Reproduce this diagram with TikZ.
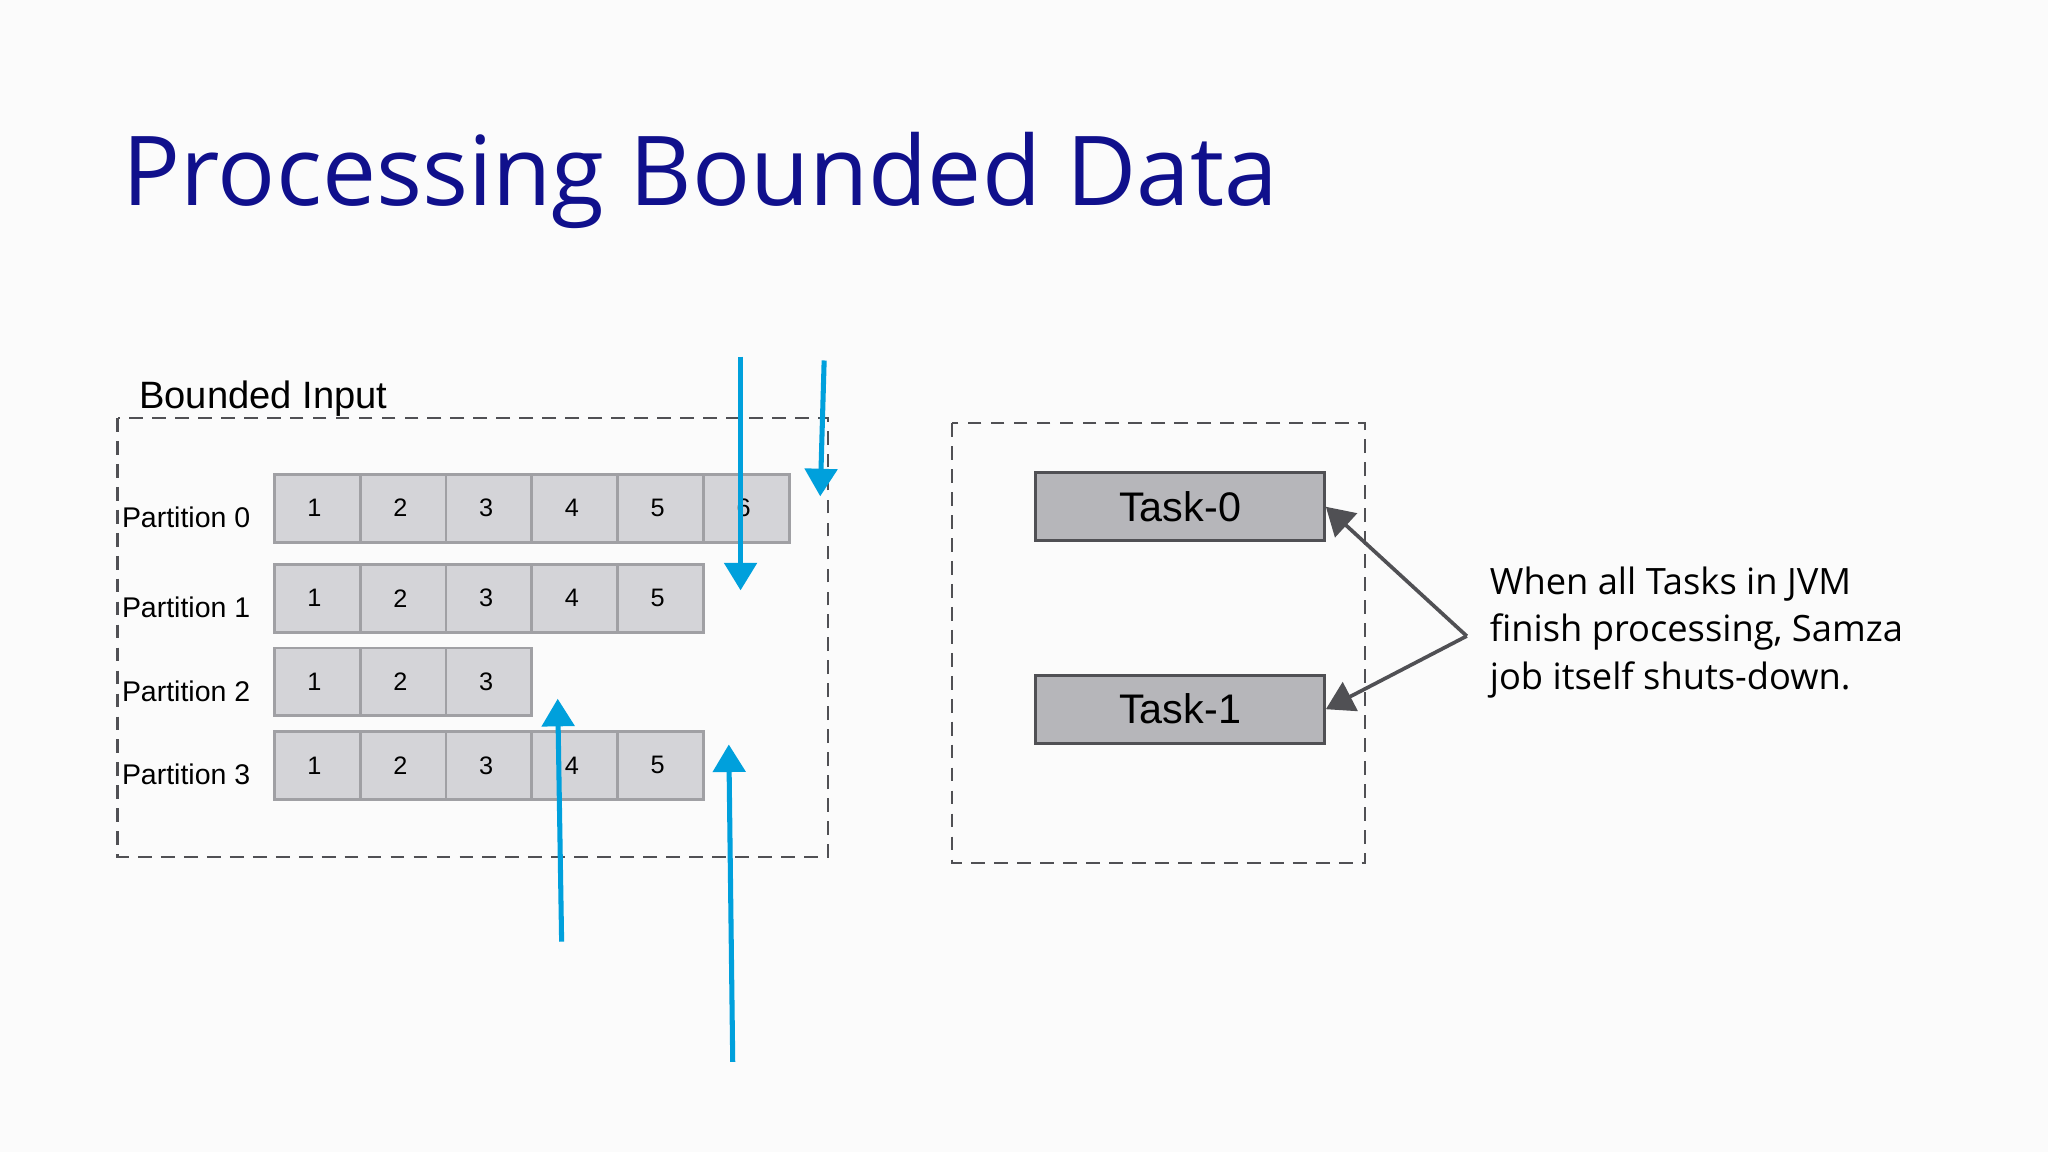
\documentclass[tikz,border=0pt]{standalone}
\usepackage{fontspec}
\setmainfont{Liberation Sans}
\newfontfamily\osans{Open Sans}
\usetikzlibrary{arrows.meta}
\definecolor{navy}{RGB}{16,16,140}
\definecolor{cellf}{RGB}{212,212,216}
\definecolor{cellb}{RGB}{160,160,164}
\definecolor{taskf}{RGB}{182,182,186}
\definecolor{blu}{RGB}{0,160,220}
\definecolor{dg}{RGB}{80,80,84}
\begin{document}
\begin{tikzpicture}[x=0.01cm,y=-0.01cm,
  cell/.style={draw=cellb,fill=cellf,line width=0.6pt,minimum width=0.657cm,minimum height=0.52cm,inner sep=0,anchor=north west},
  num/.style={font=\fontsize{5.5}{6}\selectfont,anchor=west},
  plab/.style={font=\fontsize{6.2}{7}\selectfont,anchor=east},
  task/.style={draw=dg,fill=taskf,line width=0.6pt,minimum width=2.21cm,minimum height=0.52cm,inner sep=0,font=\fontsize{9}{10}\selectfont},
  dbox/.style={draw=dg,dashed,line width=0.5pt,dash pattern=on 3pt off 2pt},
  barrow/.style={draw=blu,line width=1.1pt,-{Triangle[width=7pt,length=6pt]}},
  garrow/.style={draw=dg,line width=0.8pt,-{Triangle[width=7pt,length=6pt]}}]
\useasboundingbox (0,0) rectangle (1568,882);
\fill[white!97!gray] (0,0) rectangle (1568,882);
\node[font=\osans\fontsize{21}{24}\selectfont,text=navy,anchor=west,inner sep=0] (title) at (93,138) {Processing Bounded Data};
\node[font=\fontsize{8.3}{9}\selectfont,anchor=west,inner sep=0] (bi) at (106,305) {Bounded Input};
\draw[dbox] (90,320) rectangle (634,656);
\draw[dbox] (729,324) rectangle (1045,661);
\foreach \r/\y/\n in {0/362/6,1/431/5,2/495/3,3/559/5}{
  \node[plab] (p\r) at (204,\y+34) {Partition \r};
  \foreach \i in {1,...,\n}{
    \node[cell] (c\r\i) at ({209+65.7*(\i-1)},\y) {};
    \node[num] at ({209+65.7*(\i-1)+14},\y+27) {\i};
  }
}
\node[task] (t0) at (903.5,388) {Task-0};
\node[task] (t1) at (903.5,543) {Task-1};
\coordinate (j) at (1123,487);
\draw[garrow] (j) -- (t0.east);
\draw[garrow] (j) -- (t1.east);
\node[font=\osans\fontsize{7.9}{10.4}\selectfont,anchor=north west,align=left,inner sep=0] (txt) at (1140,433) {When all Tasks in JVM\\finish processing, Samza\\job itself shuts-down.};
\coordinate (a1) at (567,273); \coordinate (a1e) at (567,452);
\coordinate (a2) at (631,276); \coordinate (a2e) at (628,380);
\coordinate (a3) at (430,721); \coordinate (a3e) at (427,535);
\coordinate (a4) at (561,813); \coordinate (a4e) at (558,570);
\draw[barrow] (a1) -- (a1e);
\draw[barrow] (a2) -- (a2e);
\draw[barrow] (a3) -- (a3e);
\draw[barrow] (a4) -- (a4e);
\end{tikzpicture}
\end{document}
